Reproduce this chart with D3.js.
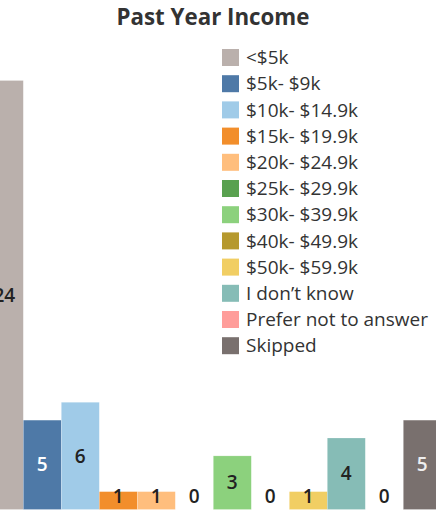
<!DOCTYPE html>
<html><head><meta charset="utf-8">
<script src="https://cdn.jsdelivr.net/npm/d3@7"></script>
<style>body{margin:0;background:#fff}svg{display:block}</style>
</head><body>
<script>
const categories = ["<$5k","$5k- $9k","$10k- $14.9k","$15k- $19.9k","$20k- $24.9k","$25k- $29.9k","$30k- $39.9k","$40k- $49.9k","$50k- $59.9k","I don\u2019t know","Prefer not to answer","Skipped"];
const values = [24,5,6,1,1,0,3,0,1,4,0,5];
const colors = ["#BAB0AC","#4E79A7","#A0CBE8","#F28E2B","#FFBE7D","#59A14F","#8CD17D","#B6992D","#F1CE63","#86BCB6","#FF9D9A","#79706E"];
const labelColors = ["#222","#fff","#222","#222","#222","#222","#222","#222","#222","#222","#222","#eee"];
const title = "Past Year Income";

const W = 437, H = 513;
const svg = d3.select("body").append("svg").attr("width", W).attr("height", H);
const font = "'Open Sans', 'Noto Sans', sans-serif";

svg.append("defs").append("clipPath").attr("id","plot")
  .append("rect").attr("x",0).attr("y",0).attr("width",436).attr("height",H);

const x = d3.scaleBand().domain(categories).range([-14.7, -14.7 + 38*categories.length]).padding(0);
const y = d3.scaleLinear().domain([0, 24]).range([509.5, 80.5]);
const color = d3.scaleOrdinal().domain(categories).range(colors);

const g = svg.append("g").attr("clip-path","url(#plot)");
g.selectAll("rect.bar").data(categories).join("rect").attr("class","bar")
  .attr("x", d => x(d)).attr("width", x.bandwidth())
  .attr("y", (d,i) => y(values[i])).attr("height", (d,i) => y(0) - y(values[i]))
  .attr("fill", d => color(d))
  .attr("stroke","#fff").attr("stroke-opacity",0.35).attr("stroke-width",0.6);

g.selectAll("text.lbl").data(categories).join("text").attr("class","lbl")
  .attr("x", d => x(d) + x.bandwidth()/2)
  .attr("y", (d,i) => Math.min((y(values[i]) + y(0))/2, y(0) - 13))
  .attr("dy","0.35em")
  .attr("text-anchor","middle")
  .attr("font-family", font).attr("font-size", 19).attr("font-weight", 600)
  .attr("fill", (d,i) => labelColors[i])
  .text((d,i) => values[i]);

svg.append("text").attr("x", 213).attr("y", 25).attr("text-anchor","middle")
  .attr("font-family", font).attr("font-size", 22.3).attr("font-weight", 700)
  .attr("fill","#333").text(title);

const leg = svg.append("g").attr("transform","translate(222,49)");
const row = leg.selectAll("g").data(categories).join("g")
  .attr("transform", (d,i) => `translate(0,${i*26.2})`);
row.append("rect").attr("width",17).attr("height",17).attr("fill", d => color(d));
row.append("text").attr("x",24).attr("y",8.5).attr("dy","0.35em")
  .attr("font-family", font).attr("font-size", 19).attr("font-weight", 500)
  .attr("fill","#333").text(d => d);
</script>
</body></html>
